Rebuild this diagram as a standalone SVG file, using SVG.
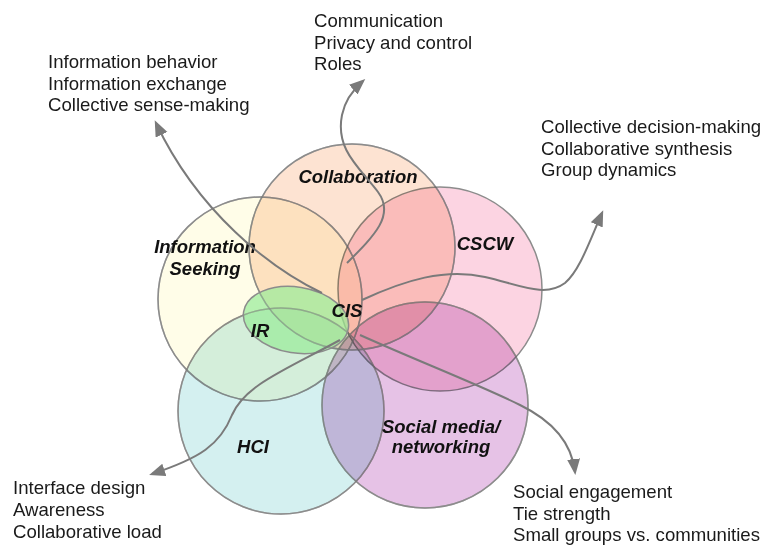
<svg xmlns="http://www.w3.org/2000/svg" width="771" height="545" viewBox="0 0 771 545">
<style>
.c{stroke:#8c8c8c;stroke-width:1.5;mix-blend-mode:multiply}
.o{fill:none;stroke:#8c8c8c;stroke-width:1.5;stroke-opacity:0.55}
.lab{font-family:"Liberation Sans",Arial,sans-serif;font-weight:bold;font-style:italic;font-size:18.5px;fill:#111;text-anchor:middle}
.txt{font-family:"Liberation Sans",Arial,sans-serif;font-size:18.6px;fill:#1a1a1a}
.arr{fill:none;stroke:#7a7a7a;stroke-width:2;marker-end:url(#ah)}
</style>
<defs>
<marker id="ah" markerUnits="userSpaceOnUse" markerWidth="18" markerHeight="14" refX="13" refY="6.5" orient="auto">
<path d="M0,0 L16,6.5 L0,13 z" fill="#7a7a7a"/>
</marker>
</defs>
<rect width="771" height="545" fill="#fff"/>
<g id="info-seeking"><circle class="c" cx="260" cy="299" r="102" fill="#fffde8"/></g>
<g id="collaboration"><circle class="c" cx="352" cy="247" r="103" fill="#fde3d2"/></g>
<g id="cscw"><circle class="c" cx="440" cy="289" r="102" fill="#fcd4e2"/></g>
<g id="hci"><circle class="c" cx="281" cy="411" r="103" fill="#d4f0f0"/></g>
<g id="social"><circle class="c" cx="425" cy="405" r="103" fill="#e6c2e6"/></g>
<g id="ir"><ellipse cx="296" cy="320" rx="53" ry="33" transform="rotate(9 296 320)" fill="#9aec9a" fill-opacity="0.72" stroke="#8c8c8c" stroke-width="1.5"/></g>
<g id="outlines">
<circle class="o" cx="260" cy="299" r="102"/>
<circle class="o" cx="352" cy="247" r="103"/>
<circle class="o" cx="281" cy="411" r="103"/>
<circle class="o" cx="425" cy="405" r="103"/>
</g>
<g id="labels">
<text class="lab" x="358" y="183">Collaboration</text>
<text class="lab" x="205" y="253">Information</text>
<text class="lab" x="205" y="275">Seeking</text>
<text class="lab" x="485" y="250">CSCW</text>
<text class="lab" x="347" y="317">CIS</text>
<text class="lab" x="260" y="337">IR</text>
<text class="lab" x="253" y="453">HCI</text>
<text class="lab" x="441" y="433">Social media/</text>
<text class="lab" x="441" y="453">networking</text>
</g>
<g id="connectors">
<path class="arr" d="M322,293 C270,268 198,212 156,123"/>
<path class="arr" d="M347,263 C375,235 395,215 378,192 C360,168 335,150 342,115 C345,100 355,88 363,81"/>
<path class="arr" d="M362,300 C405,280 445,268 485,277 C520,285 545,298 565,283 C580,270 590,240 602,213"/>
<path class="arr" d="M340,340 C285,370 245,385 232,415 C220,445 200,458 152,474"/>
<path class="arr" d="M360,335 C420,362 480,385 520,405 C555,422 572,445 575,472"/>
</g>
<g id="notes">
<text class="txt" x="48" y="68">Information behavior</text>
<text class="txt" x="48" y="90">Information exchange</text>
<text class="txt" x="48" y="111">Collective sense-making</text>
<text class="txt" x="314" y="27">Communication</text>
<text class="txt" x="314" y="49">Privacy and control</text>
<text class="txt" x="314" y="70">Roles</text>
<text class="txt" x="541" y="133">Collective decision-making</text>
<text class="txt" x="541" y="155">Collaborative synthesis</text>
<text class="txt" x="541" y="176">Group dynamics</text>
<text class="txt" x="13" y="494">Interface design</text>
<text class="txt" x="13" y="516">Awareness</text>
<text class="txt" x="13" y="538">Collaborative load</text>
<text class="txt" x="513" y="498">Social engagement</text>
<text class="txt" x="513" y="520">Tie strength</text>
<text class="txt" x="513" y="541">Small groups vs. communities</text>
</g>
</svg>
